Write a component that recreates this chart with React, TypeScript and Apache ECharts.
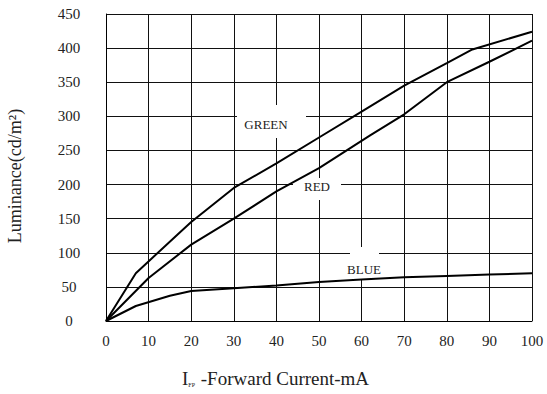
import React, { useEffect, useRef } from "react";
import * as echarts from "echarts";

const xTicks = [0, 10, 20, 30, 40, 50, 60, 70, 80, 90, 100];
const yTicks = [0, 50, 100, 150, 200, 250, 300, 350, 400, 450];

const greenX = [0, 7, 17, 20, 30, 40, 50, 60, 70, 80, 86, 100];
const greenY = [0, 70, 128, 145, 195, 231, 269, 307, 345, 378, 398, 424];

const redX = [0, 10, 20, 30, 40, 50, 62, 70, 80, 90, 100];
const redY = [0, 63, 112, 150, 190, 224, 272, 303, 350, 380, 411];

const blueX = [0, 7, 15, 20, 30, 40, 50, 60, 70, 80, 90, 100];
const blueY = [0, 22, 37, 44, 48, 52, 57, 61, 64, 66, 68, 70];

const seriesNames = ["GREEN", "RED", "BLUE"];

const pairs = (xs: number[], ys: number[]) => xs.map((x, i) => [x, ys[i]]);

const FAMILY = "Liberation Serif";
const FONT = "Liberation Serif, serif";

export default function App() {
  const ref = useRef<HTMLDivElement>(null);
  useEffect(() => {
    document.body.style.margin = "0";
    if (!ref.current) return;
    const chart = echarts.init(ref.current, null, { renderer: "svg" });
    const lineStyle = { color: "#000", width: 2 };
    const labelStyle = (size: number) => ({
      fill: "#222",
      font: `${size}px ${FONT}`,
      textAlign: "center",
      textVerticalAlign: "middle",
      align: "center",
      verticalAlign: "middle",
    });
    chart.setOption({
      animation: false,
      backgroundColor: "#fff",
      grid: { left: 106, right: 15, top: 14, bottom: 73, containLabel: false },
      xAxis: {
        type: "value",
        min: xTicks[0],
        max: xTicks[xTicks.length - 1],
        interval: 10,
        axisLine: { show: true, lineStyle: { color: "#000", width: 1 } },
        axisTick: { show: false },
        splitLine: { show: true, lineStyle: { color: "#111", width: 1 } },
        axisLabel: { color: "#222", fontFamily: FAMILY, fontSize: 15, margin: 12 },
      },
      yAxis: {
        type: "value",
        min: yTicks[0],
        max: yTicks[yTicks.length - 1],
        interval: 50,
        axisLine: { show: true, lineStyle: { color: "#000", width: 1 } },
        axisTick: { show: false },
        splitLine: { show: true, lineStyle: { color: "#111", width: 1 } },
        axisLabel: { color: "#222", fontFamily: FAMILY, fontSize: 15, margin: 37, align: "center" },
      },
      series: [
        { name: seriesNames[0], type: "line", data: pairs(greenX, greenY), symbol: "none", lineStyle, z: 3 },
        { name: seriesNames[1], type: "line", data: pairs(redX, redY), symbol: "none", lineStyle, z: 3 },
        { name: seriesNames[2], type: "line", data: pairs(blueX, blueY), symbol: "none", lineStyle, z: 3 },
      ],
      graphic: [
        { type: "rect", z: 1, shape: { x: 237, y: 105, width: 69, height: 33 }, style: { fill: "#fff" } },
        { type: "rect", z: 1, shape: { x: 293, y: 178, width: 48, height: 22 }, style: { fill: "#fff" } },
        { type: "rect", z: 1, shape: { x: 350, y: 247, width: 29, height: 33 }, style: { fill: "#fff" } },
        { type: "text", z: 4, x: 266, y: 124, style: { text: seriesNames[0], ...labelStyle(13) } },
        { type: "text", z: 4, x: 317, y: 186, style: { text: seriesNames[1], ...labelStyle(13) } },
        { type: "text", z: 4, x: 364, y: 269, style: { text: seriesNames[2], ...labelStyle(13) } },
        {
          type: "text", z: 4, x: 182, y: 378,
          style: {
            text: "{a|I}{s|FP}{a| -Forward Current-mA}",
            fill: "#222",
            textAlign: "left", align: "left",
            textVerticalAlign: "middle", verticalAlign: "middle",
            rich: {
              a: { fontFamily: FAMILY, fontSize: 19, fill: "#222", color: "#222" },
              s: { fontFamily: FAMILY, fontSize: 6, fill: "#222", color: "#222", verticalAlign: "bottom", padding: [6, 1, 0, 0] },
            },
          },
        },
        {
          type: "text", z: 4, x: 15, y: 176, rotation: Math.PI / 2,
          style: { text: "Luminance(cd/m²)", ...labelStyle(18) },
        },
      ],
    });
    return () => chart.dispose();
  }, []);
  return <div ref={ref} style={{ width: 547, height: 394 }} />;
}
